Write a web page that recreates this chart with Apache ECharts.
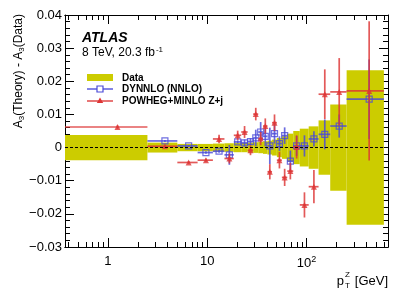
<!DOCTYPE html>
<html>
<head>
<meta charset="utf-8">
<script src="https://cdn.jsdelivr.net/npm/echarts@6/dist/echarts.min.js"></script>
<style>
html,body{margin:0;padding:0;background:#fff;}
#chart{width:409px;height:294px;}
</style>
</head>
<body>
<div id="chart"></div>
<script>
// ---- data ----
const binLow  = [0, 2.5, 5, 8, 11.4, 14.9, 18.5, 22, 25.5, 29, 32.6, 36.4, 40.4, 44.9, 50.2, 56.4, 63.9, 73.4, 85.4, 105, 132, 173, 253];
const binHigh = [2.5, 5, 8, 11.4, 14.9, 18.5, 22, 25.5, 29, 32.6, 36.4, 40.4, 44.9, 50.2, 56.4, 63.9, 73.4, 85.4, 105, 132, 173, 253, 600];
const dataUnc = [0.0038, 0.0015, 0.0011, 0.0011, 0.0012, 0.0013, 0.0014, 0.0014, 0.0015, 0.0016, 0.0017, 0.0019, 0.0021, 0.0024, 0.0029, 0.0034, 0.0042, 0.005, 0.0057, 0.0064, 0.0082, 0.013, 0.0233];
const dynnlo    = [null, 0.002, 0.0005, -0.0015, -0.0011, -0.0022, 0.0017, 0.0014, 0.0018, 0.0029, 0.0047, 0.0034, 0.0005, 0.0042, 0.0012, 0.0036, -0.0041, 0.0005, 0.0005, 0.0026, 0.004, 0.0065, 0.0146];
const dynnloErr = [null, 0.0003, 0.0003, 0.0004, 0.0005, 0.003, 0.0005, 0.001, 0.001, 0.0025, 0.003, 0.003, 0.0055, 0.003, 0.0022, 0.0025, 0.0032, 0.003, 0.0032, 0.0023, 0.0045, 0.0035, 0.012];
const powheg    = [0.0062, 0.0004, -0.0045, -0.0038, 0.0026, -0.0033, 0.0037, 0.0047, -0.0008, 0.0101, 0.0027, 0.0065, -0.0073, 0.0075, -0.0038, -0.009, -0.0071, 0.0002, -0.0173, -0.0118, 0.0161, 0.0168, 0.0171];
const powhegErr = [0.0005, 0.0003, 0.0004, 0.0005, 0.0013, 0.0015, 0.0014, 0.0018, 0.0015, 0.0019, 0.002, 0.0023, 0.0023, 0.0025, 0.0025, 0.0026, 0.0025, 0.0035, 0.0038, 0.005, 0.0075, 0.0102, 0.021];
const xMajorTicks = [1, 10, 100];
const xMinorTicks = [0.4,0.5,0.6,0.7,0.8,0.9,2,3,4,5,6,7,8,9,20,30,40,50,60,70,80,90,200,300,400,500,600];
const X_MIN = 0.37, X_MAX = 660;
const Y_MIN = -0.03, Y_MAX = 0.04, Y_STEP = 0.01;

const YELLOW = '#cccc00';
const BLUE = '#4a4ad8';
const RED = '#dd3535';
const FONT = '"Liberation Sans", Arial, Helvetica, sans-serif';

const bandData = binLow.map((lo, i) => [lo, binHigh[i], dataUnc[i]]);
function errData(vals, errs) {
  const out = [];
  vals.forEach((v, i) => {
    if (v === null) return;
    out.push([(binLow[i] + binHigh[i]) / 2, binLow[i], binHigh[i], v, errs[i]]);
  });
  return out;
}
const dynData = errData(dynnlo, dynnloErr);
const powData = errData(powheg, powhegErr);

function errRender(color) {
  return function (params, api) {
    const c = api.value(0), lo = Math.max(api.value(1), X_MIN), hi = api.value(2), y = api.value(3), e = api.value(4);
    const a = api.coord([lo, y]), b = api.coord([hi, y]);
    const t = api.coord([c, y + e]), d = api.coord([c, y - e]);
    return {
      type: 'group',
      children: [
        {type: 'line', shape: {x1: a[0], y1: a[1], x2: b[0], y2: b[1]}, style: {stroke: color, lineWidth: 1.7, opacity: 0.82}},
        {type: 'line', shape: {x1: t[0], y1: t[1], x2: d[0], y2: d[1]}, style: {stroke: color, lineWidth: 1.7, opacity: 0.82}}
      ]
    };
  };
}

const chart = echarts.init(document.getElementById('chart'), null, {renderer: 'canvas'});

const grid = {left: 65, right: 21, top: 15, bottom: 47};
function xAxisDef(pos, ticks, len, labels) {
  return {
    type: 'log', min: X_MIN, max: X_MAX, position: pos, gridIndex: 0,
    axisLine: {show: true, onZero: false, lineStyle: {color: '#000', width: 1}},
    axisTick: {show: true, inside: true, length: len, customValues: ticks, lineStyle: {color: '#000', width: 1}},
    minorTick: {show: false},
    splitLine: {show: false},
    axisLabel: labels ? {
      show: true, customValues: xMajorTicks, margin: 8, color: '#000', fontFamily: FONT, fontSize: 13,
      formatter: v => (Math.abs(v - 100) < 1e-6 ? '10{sup|2}' : String(Math.round(v))),
      rich: {sup: {fontSize: 9, fontFamily: FONT, color: '#000', padding: [0, 0, 7, 0]}}
    } : {show: false}
  };
}
function yAxisDef(pos, labels) {
  return {
    type: 'value', min: Y_MIN, max: Y_MAX, interval: Y_STEP, position: pos, gridIndex: 0,
    axisLine: {show: true, onZero: false, lineStyle: {color: '#000', width: 1}},
    axisTick: {show: true, inside: true, length: 9, lineStyle: {color: '#000'}},
    minorTick: {show: true, splitNumber: 5, length: 5, lineStyle: {color: '#000'}},
    splitLine: {show: false},
    axisLabel: labels ? {
      show: true, margin: 3, color: '#000', fontFamily: FONT, fontSize: 13,
      formatter: v => {
        const r = Math.round(v * 100) / 100;
        if (r === 0) return '0';
        return (r < 0 ? '\u2212' : '') + Math.abs(r).toFixed(2);
      }
    } : {show: false}
  };
}

const option = {
  animation: false,
  backgroundColor: '#fff',
  grid: grid,
  xAxis: [
    xAxisDef('bottom', xMajorTicks, 9, true),
    xAxisDef('bottom', xMinorTicks, 5, false),
    xAxisDef('top', xMajorTicks, 9, false),
    xAxisDef('top', xMinorTicks, 5, false)
  ],
  yAxis: [yAxisDef('left', true), yAxisDef('right', false)],
  series: [
    {
      type: 'custom', name: 'Data', xAxisIndex: 0, yAxisIndex: 0, z: 1,
      data: bandData, encode: {x: [0, 1], y: 2},
      renderItem: function (params, api) {
        const lo = Math.max(api.value(0), X_MIN), hi = api.value(1), h = api.value(2);
        const p1 = api.coord([lo, h]), p2 = api.coord([hi, -h]);
        return {type: 'rect', shape: {x: p1[0], y: p1[1], width: p2[0] - p1[0], height: p2[1] - p1[1]}, style: {fill: YELLOW}};
      }
    },
    {
      type: 'custom', name: 'DYNNLO err', xAxisIndex: 0, yAxisIndex: 0, z: 3,
      data: dynData, encode: {x: 0, y: 3}, renderItem: errRender(BLUE)
    },
    {
      type: 'scatter', name: 'DYNNLO (NNLO)', xAxisIndex: 0, yAxisIndex: 0, z: 4,
      data: dynData.map(d => [d[0], d[3]]), symbol: 'rect', symbolSize: 6,
      itemStyle: {color: 'rgba(255,255,255,0)', borderColor: BLUE, borderWidth: 1.2}
    },
    {
      type: 'custom', name: 'POWHEG err', xAxisIndex: 0, yAxisIndex: 0, z: 5,
      data: powData, encode: {x: 0, y: 3}, renderItem: errRender(RED)
    },
    {
      type: 'scatter', name: 'POWHEG+MINLO Z+j', xAxisIndex: 0, yAxisIndex: 0, z: 6,
      data: powData.map(d => [d[0], d[3]]), symbol: 'triangle', symbolSize: 6,
      itemStyle: {color: RED},
      markLine: {
        silent: true, symbol: 'none', label: {show: false}, z: 7,
        lineStyle: {color: '#000', type: [3, 2], width: 1},
        data: [{yAxis: 0}]
      }
    }
  ],
  graphic: [
    {type: 'text', x: 82, y: 38, style: {text: 'ATLAS', font: 'italic bold 14px ' + FONT, fill: '#000', verticalAlign: 'middle'}},
    {type: 'text', x: 82, y: 53, style: {
      text: '8 TeV, 20.3 fb{sup|-1}', fontFamily: FONT, fontSize: 12, fill: '#000', verticalAlign: 'middle',
      rich: {sup: {fontSize: 8, fontFamily: FONT, fill: '#000', padding: [0, 0, 7, 1]}}
    }},
    {type: 'rect', shape: {x: 87, y: 74, width: 26, height: 7}, style: {fill: YELLOW}},
    {type: 'line', shape: {x1: 87, y1: 89, x2: 113, y2: 89}, style: {stroke: BLUE, lineWidth: 1.6, opacity: 0.85}},
    {type: 'rect', shape: {x: 97, y: 86, width: 6, height: 6}, style: {fill: '#fff', stroke: BLUE, lineWidth: 1.2}},
    {type: 'line', shape: {x1: 87, y1: 101, x2: 113, y2: 101}, style: {stroke: RED, lineWidth: 1.6, opacity: 0.85}},
    {type: 'polygon', shape: {points: [[100, 97.5], [103.2, 103], [96.8, 103]]}, style: {fill: RED}},
    {type: 'text', x: 122, y: 78, style: {text: 'Data', font: 'bold 10px ' + FONT, fill: '#000', verticalAlign: 'middle'}},
    {type: 'text', x: 122, y: 89.5, style: {text: 'DYNNLO (NNLO)', font: 'bold 10px ' + FONT, fill: '#000', verticalAlign: 'middle'}},
    {type: 'text', x: 122, y: 101, style: {text: 'POWHEG+MINLO Z+j', font: 'bold 10px ' + FONT, fill: '#000', verticalAlign: 'middle'}},
    // y-axis title
    {type: 'text', x: 19, y: 14, rotation: Math.PI / 2, style: {
      text: 'A{sub|3}(Theory) - A{sub|3}(Data)', fontFamily: FONT, fontSize: 12, fill: '#000',
      align: 'right', verticalAlign: 'middle',
      rich: {sub: {fontSize: 8, fontFamily: FONT, fill: '#000', padding: [6, 0, 0, 0]}}
    }},
    // x-axis title
    {type: 'text', x: 344, y: 281, style: {text: 'p', fontFamily: FONT, fontSize: 13, fill: '#000', align: 'right', verticalAlign: 'middle'}},
    {type: 'text', x: 345, y: 275, style: {text: 'Z', fontFamily: FONT, fontSize: 8, fill: '#000', align: 'left', verticalAlign: 'middle'}},
    {type: 'text', x: 345, y: 286, style: {text: 'T', fontFamily: FONT, fontSize: 8, fill: '#000', align: 'left', verticalAlign: 'middle'}},
    {type: 'text', x: 388, y: 281, style: {text: '[GeV]', fontFamily: FONT, fontSize: 13, fill: '#000', align: 'right', verticalAlign: 'middle'}}
  ]
};
chart.setOption(option);
</script>
</body>
</html>
